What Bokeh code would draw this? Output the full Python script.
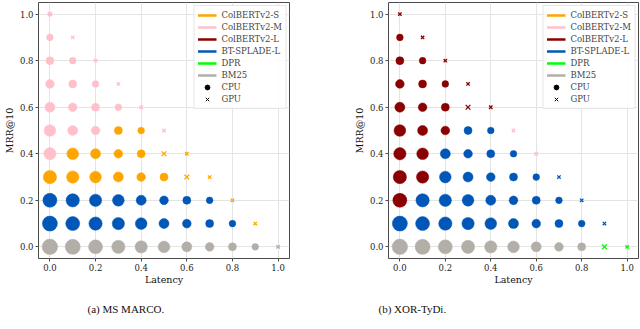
from bokeh.plotting import figure
from bokeh.layouts import row
from bokeh.models import (Range1d, FixedTicker, PrintfTickFormatter, Legend,
                          LegendItem, Title, ColumnDataSource)
from bokeh.embed import file_html
from bokeh.resources import INLINE

# ---------------- data ----------------
LATENCY = [0.0, 0.1, 0.2, 0.3, 0.4, 0.5, 0.6, 0.7, 0.8, 0.9, 1.0]
MRR = [1.0, 0.9, 0.8, 0.7, 0.6, 0.5, 0.4, 0.3, 0.2, 0.1, 0.0]   # one row per value
AXIS_TICKS = [0.0, 0.2, 0.4, 0.6, 0.8, 1.0]

MODELS = ["ColBERTv2-S", "ColBERTv2-M", "ColBERTv2-L", "BT-SPLADE-L", "DPR", "BM25"]
MODEL_CODES = ["S", "M", "L", "B", "D", "G"]
MODEL_COLORS = ["#FFA500", "#FFC0CB", "#8B0000", "#0057B7", "#00FF00", "#B3AEA8"]
DEVICES = ["CPU", "GPU"]

# best model per (MRR row, latency column); c = CPU, g = GPU
MSMARCO_BEST = ["M", "MM", "MMM", "MMMM", "MMMMM", "MMMSSM", "MSSSSSS",
                "SSSSSSSS", "BBBBBBBBS", "BBBBBBBBBS", "GGGGGGGGGGG"]
MSMARCO_DEVICE = ["c", "cg", "ccg", "cccg", "ccccg", "cccccg", "cccccgg",
                  "ccccccgg", "ccccccccg", "cccccccccg", "ccccccccccg"]
XOR_BEST = ["L", "LL", "LLL", "LLLL", "LLLLL", "LLLBBM", "LLBBBBM",
            "LLBBBBBB", "LBBBBBBBB", "BBBBBBBBBB", "GGGGGGGGGDD"]
XOR_DEVICE = ["g", "cg", "ccg", "cccg", "cccgg", "cccccg", "ccccccg",
              "cccccccg", "ccccccccg", "cccccccccg", "cccccccccgg"]

# marker diameter (px), by latency+MRR level 0.0 .. 1.0
MARKER_SIZE = [15.5, 15, 14, 13.3, 12.3, 11.7, 10, 8.7, 8, 6.7, 4.8]

SERIF = "DejaVu Serif"
NAN = float("nan")


def make_panel(best, device, caption, width, mbl, mbr, cap_offset):
    p = figure(width=width, height=328, output_backend="svg", toolbar_location=None,
               x_range=Range1d(-0.05, 1.05), y_range=Range1d(-0.05, 1.05),
               min_border_left=mbl, min_border_right=mbr, min_border_top=2,
               min_border_bottom=70)
    p.outline_line_color = "#4a4a4a"
    p.outline_line_width = 1
    p.background_fill_color = "white"
    p.border_fill_color = "white"

    data = {d: dict(x=[], y=[], color=[], size=[]) for d in DEVICES}
    for i, (brow, drow) in enumerate(zip(best, device)):
        for j, (b, d) in enumerate(zip(brow, drow)):
            key = "CPU" if d == "c" else "GPU"
            data[key]["x"].append(LATENCY[j])
            data[key]["y"].append(MRR[i])
            data[key]["color"].append(MODEL_COLORS[MODEL_CODES.index(b)])
            data[key]["size"].append(MARKER_SIZE[j + (len(MRR) - 1 - i)])

    p.scatter("x", "y", source=ColumnDataSource(data["CPU"]), marker="circle",
              size="size", fill_color="color", line_color="color", line_width=0.5)
    p.scatter("x", "y", source=ColumnDataSource(data["GPU"]), marker="x",
              size="size", line_color="color", line_width=1.3)

    # legend proxies (NaN data: nothing drawn in the plot area)
    items = []
    for name, col in zip(MODELS, MODEL_COLORS):
        r = p.line(x=[NAN], y=[NAN], line_color=col, line_width=2.5)
        items.append(LegendItem(label=name, renderers=[r]))
    rc = p.scatter(x=[NAN], y=[NAN], marker="circle", size=5,
                   fill_color="black", line_color="black")
    items.append(LegendItem(label="CPU", renderers=[rc]))
    rg = p.scatter(x=[NAN], y=[NAN], marker="x", size=6, line_color="black", line_width=1)
    items.append(LegendItem(label="GPU", renderers=[rg]))

    leg = Legend(items=items, location="top_right")
    leg.label_text_font = SERIF
    leg.label_text_font_size = "8.5px"
    leg.glyph_width = 19
    leg.glyph_height = 12
    leg.label_height = 12
    leg.spacing = 0
    leg.padding = 3
    leg.margin = 3
    leg.label_standoff = 5
    leg.border_line_color = "#cccccc"
    leg.background_fill_alpha = 0.85
    p.add_layout(leg)

    for ax in (p.xaxis[0], p.yaxis[0]):
        ax.ticker = FixedTicker(ticks=AXIS_TICKS)
        ax.formatter = PrintfTickFormatter(format="%.1f")
        ax.major_label_text_font = SERIF
        ax.major_label_text_font_size = "8.5px"
        ax.major_label_text_color = "#222222"
        ax.major_tick_out = 3
        ax.major_tick_in = 0
        ax.major_tick_line_color = "#4a4a4a"
        ax.minor_tick_line_color = None
        ax.axis_line_color = None
        ax.major_label_standoff = 2
        ax.axis_label_text_font = SERIF
        ax.axis_label_text_font_size = "9.5px"
        ax.axis_label_text_font_style = "normal"
        ax.axis_label_text_color = "#111111"
    p.xaxis[0].axis_label_standoff = 0
    p.yaxis[0].axis_label_standoff = 2
    p.xaxis.axis_label = "Latency"
    p.yaxis.axis_label = "MRR@10"

    p.grid.ticker = FixedTicker(ticks=AXIS_TICKS)
    p.grid.grid_line_color = "#e4e4e4"
    p.grid.grid_line_width = 1

    t = Title(text=caption, align="left", offset=cap_offset, standoff=27,
              text_font="Liberation Serif", text_font_size="11px",
              text_font_style="normal", text_color="#111111")
    p.add_layout(t, "below")
    return p


p1 = make_panel(MSMARCO_BEST, MSMARCO_DEVICE, "(a) MS MARCO.", 330, 38, 41, 49)
p2 = make_panel(XOR_BEST, XOR_DEVICE, "(b) XOR-TyDi.", 309, 58, 1, -10)

layout = row(p1, p2, spacing=0)
open("out.html", "w").write(file_html(layout, INLINE))
